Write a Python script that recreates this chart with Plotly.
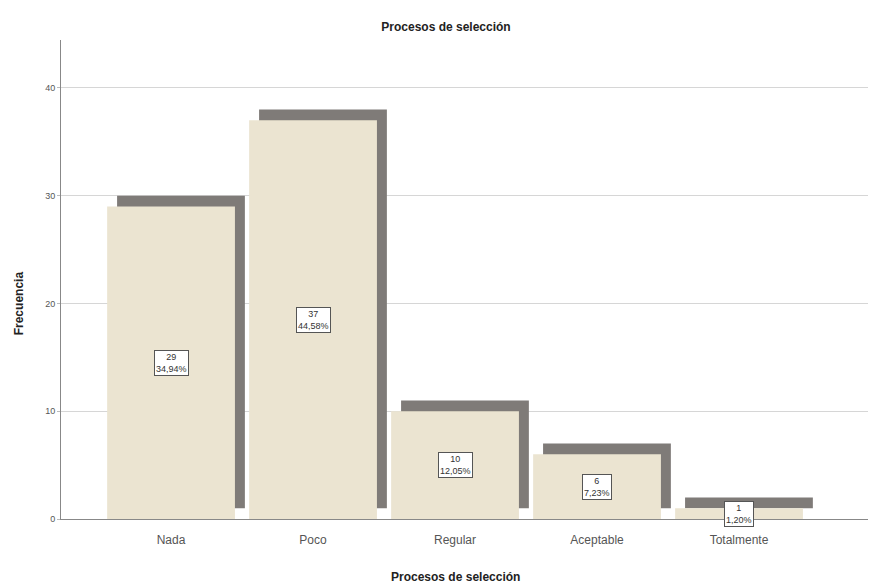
import plotly.graph_objects as go

categories = ["Nada", "Poco", "Regular", "Aceptable", "Totalmente"]
counts = [29, 37, 10, 6, 1]
percents = ["34,94%", "44,58%", "12,05%", "7,23%", "1,20%"]
y_ticks = [0, 10, 20, 30, 40]

idx = list(range(len(categories)))
shadow_dx = 0.07
shadow_dy = 1.0
bar_w = 0.9

fig = go.Figure()
fig.add_trace(go.Bar(
    x=[i + shadow_dx for i in idx], y=counts, base=[shadow_dy] * len(counts),
    width=bar_w, marker=dict(color="#7f7b78", line=dict(width=0)),
    hoverinfo="skip", showlegend=False))
fig.add_trace(go.Bar(
    x=idx, y=counts, width=bar_w,
    marker=dict(color="#ebe4d1", line=dict(width=0)),
    showlegend=False))

for i, c, p in zip(idx, counts, percents):
    fig.add_annotation(x=i, y=c / 2, xref="x", yref="y", text=f"{c}<br>{p}",
                       showarrow=False, font=dict(family="Liberation Sans", size=9, color="#333"),
                       bgcolor="white", bordercolor="#555", borderwidth=1, borderpad=1)

# axis titles
fig.add_annotation(text="<b>Procesos de selección</b>", xref="paper", yref="paper",
                   x=0.479, y=-0.121, xanchor="center", yanchor="middle", showarrow=False,
                   font=dict(family="Liberation Sans", size=12, color="#222"))
fig.add_annotation(text="<b>Frecuencia</b>", xref="paper", yref="paper", textangle=-90,
                   x=-0.05, y=0.45, xanchor="center", yanchor="middle", showarrow=False,
                   font=dict(family="Liberation Sans", size=12, color="#222"))

fig.update_layout(
    width=876, height=588, barmode="overlay",
    margin=dict(l=53, r=0, t=32, b=77, autoexpand=False),
    paper_bgcolor="white", plot_bgcolor="white",
    font=dict(family="Liberation Sans", color="#444"),
    title=dict(text="<b>Procesos de selección</b>", x=0.5, xanchor="center", y=0.968, yanchor="middle",
               font=dict(size=12, color="#222")),
    xaxis=dict(range=[-0.775, 5.021], tickvals=idx, ticktext=categories, automargin=False,
               showgrid=False, zeroline=False, showline=True, linecolor="#888", linewidth=1,
               ticks="", ticklabelstandoff=10, tickfont=dict(size=12, color="#555")),
    yaxis=dict(range=[0, 44.45], tickvals=y_ticks, showgrid=True, gridcolor="#d6d6d6", gridwidth=1,
               zeroline=False, showline=True, linecolor="#888", linewidth=1, automargin=False,
               ticks="outside", ticklen=3, tickcolor="#bbb", tickfont=dict(size=9, color="#555")),
)

fig.write_html("out.html")
